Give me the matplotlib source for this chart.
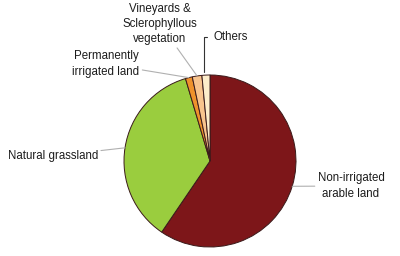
import numpy as np
import matplotlib
matplotlib.use('Agg')
import matplotlib.pyplot as plt

# Data (share of land cover, %)
labels = ['Non-irrigated\narable land', 'Natural grassland', 'Permanently\nirrigated land',
          'Vineyards &\nSclerophyllous\nvegetation', 'Others']
values = [59.5, 35.9, 1.3, 1.8, 1.5]
colors = ['#7d1619', '#9acd3e', '#ef922c', '#f8c48e', '#fdedcb']

plt.rcParams['font.family'] = ['Liberation Sans', 'DejaVu Sans']

W, H = 400, 256
cx, cy, R = 210, 161, 86   # pie centre / radius in pixels


def px(x, y):
    # pixel position (from top-left) -> data coords (pie unit circle)
    return (x - cx) / R, (cy - y) / R


fig = plt.figure(figsize=(W / 100, H / 100), dpi=100)
ax = fig.add_axes([0, 0, 1, 1])

wedges, _ = ax.pie(values, colors=colors, startangle=90, counterclock=False,
                   radius=1, center=(0, 0), frame=True,
                   wedgeprops=dict(edgecolor='#3a1a1a', linewidth=0.7))
ax.set_xlim(-cx / R, (W - cx) / R)
ax.set_ylim(-(H - cy) / R, cy / R)
ax.set_aspect('auto')
ax.axis('off')


def edge_point(w, frac=0.5, r=1.0):
    ang = np.radians(w.theta1 + (w.theta2 - w.theta1) * frac)
    return r * np.cos(ang), r * np.sin(ang)


txt = dict(fontsize=8.3, color='#1c1c1c', linespacing=1.35)
line = dict(arrowstyle='-', color='#b0b0b0', lw=0.8, shrinkA=0, shrinkB=0)

# Non-irrigated arable land
ax.annotate(labels[0], xy=edge_point(wedges[0], 0.5), xytext=px(351, 186),
            ha='center', va='center', arrowprops=line, **txt)
# Natural grassland
ax.annotate(labels[1], xy=edge_point(wedges[1], 0.5), xytext=px(53, 156),
            ha='center', va='center', arrowprops=line, **txt)
# Permanently irrigated land
ax.annotate(labels[2], xy=edge_point(wedges[2], 0.5), xytext=px(106, 64),
            ha='center', va='center', arrowprops=line, **txt)
# Vineyards & Sclerophyllous vegetation
ax.annotate(labels[3], xy=edge_point(wedges[3], 0.5), xytext=px(160, 24),
            ha='center', va='center', arrowprops=line, **txt)
# Others
ax.annotate(labels[4], xy=edge_point(wedges[4], 0.8), xytext=px(213, 37),
            ha='left', va='center',
            arrowprops=dict(arrowstyle='-', color='#333333', lw=0.8,
                            connectionstyle='angle,angleA=0,angleB=90,rad=0'),
            **txt)

fig.savefig('out.png', dpi=100)
